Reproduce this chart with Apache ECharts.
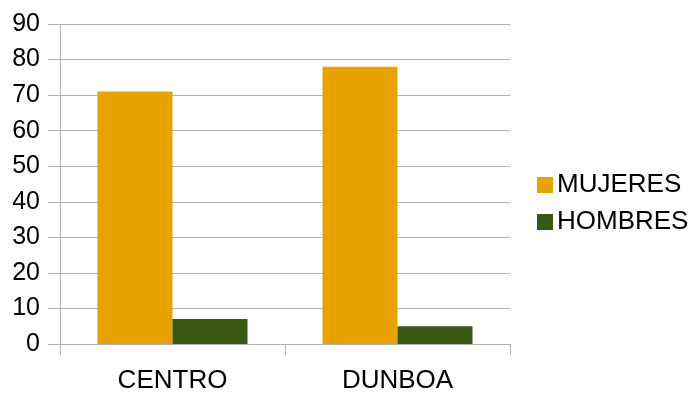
<!DOCTYPE html>
<html>
<head>
<meta charset="utf-8">
<script src="https://cdn.jsdelivr.net/npm/echarts@6/dist/echarts.min.js"></script>
<style>html,body{margin:0;padding:0;background:#fff}#c{width:694px;height:394px}</style>
</head>
<body>
<div id="c"></div>
<script>
const categories = ['CENTRO', 'DUNBOA'];
const mujeres = [71, 78];
const hombres = [7, 5];
const seriesNames = ['MUJERES', 'HOMBRES'];

const chart = echarts.init(document.getElementById('c'), null, {renderer: 'canvas'});
const font = 'Liberation Sans, Arial, sans-serif';
chart.setOption({
  animation: false,
  backgroundColor: '#ffffff',
  grid: {left: 60, right: 184, top: 24, bottom: 47, containLabel: false},
  legend: {
    orient: 'vertical',
    left: 532,
    top: 167,
    itemWidth: 16,
    itemHeight: 16,
    itemGap: 11,
    icon: 'rect',
    textStyle: {fontFamily: font, fontSize: 26, color: '#000', lineHeight: 26, padding: [0, 0, 0, -1]},
    data: seriesNames
  },
  xAxis: {
    type: 'category',
    data: categories,
    axisLine: {show: true, lineStyle: {color: '#b3b3b3', width: 1}},
    axisTick: {show: true, length: 11, alignWithLabel: false, lineStyle: {color: '#b3b3b3'}},
    axisLabel: {fontFamily: font, fontSize: 26, color: '#000', margin: 24},
    splitLine: {show: false}
  },
  yAxis: {
    type: 'value',
    min: 0, max: 90, interval: 10,
    axisLine: {show: true, lineStyle: {color: '#b3b3b3', width: 1}},
    axisTick: {show: true, length: 12, lineStyle: {color: '#b3b3b3'}},
    axisLabel: {fontFamily: font, fontSize: 25, color: '#000', margin: 20},
    splitLine: {show: true, lineStyle: {color: '#b3b3b3', width: 1}}
  },
  series: [
    {name: seriesNames[0], type: 'bar', data: mujeres, itemStyle: {color: '#e8a202'}, barGap: '0%', barCategoryGap: '33.33%'},
    {name: seriesNames[1], type: 'bar', data: hombres, itemStyle: {color: '#3c5712'}, barGap: '0%', barCategoryGap: '33.33%'}
  ]
});
</script>
</body>
</html>
